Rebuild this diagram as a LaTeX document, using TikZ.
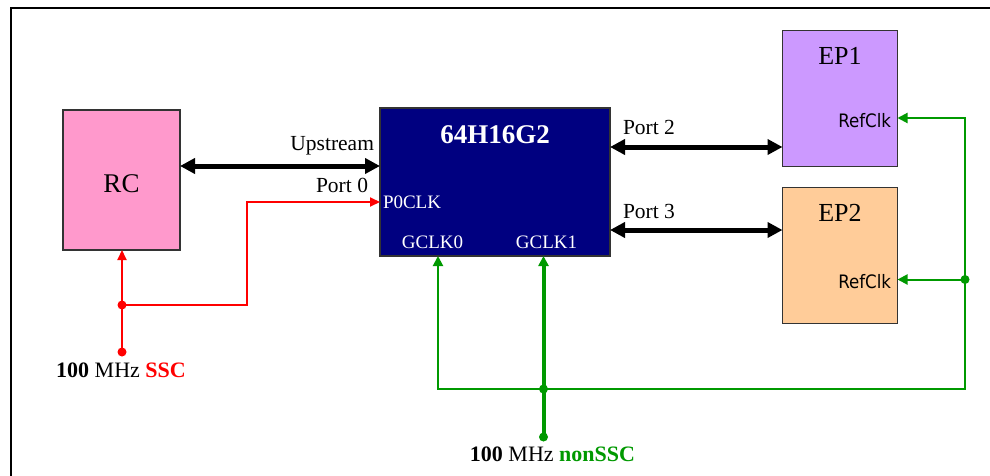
\documentclass[tikz,border=0pt]{standalone}
\usepackage{fontspec}
\setmainfont{Liberation Serif}
\newfontfamily\refclkfont{DejaVu Sans Condensed}
\usetikzlibrary{arrows.meta,calc}
\definecolor{rcpink}{HTML}{FF99CC}
\definecolor{swnavy}{HTML}{000080}
\definecolor{eppurple}{HTML}{CC99FF}
\definecolor{eporange}{HTML}{FFCC99}
\definecolor{clkgreen}{HTML}{009900}
\definecolor{clkred}{HTML}{FF0000}
\newcommand{\fsz}[1]{\fontsize{#1}{#1}\selectfont}
\begin{document}
\begin{tikzpicture}[x=1pt,y=-1pt,
  blockbox/.style={draw=black!80, line width=1.2pt, inner sep=0pt, outer sep=0pt, anchor=north west},
  lbl/.style={inner sep=0pt, outer sep=0pt},
  bus/.style={line width=5pt, {Triangle[length=15pt,width=15pt]}-{Triangle[length=15pt,width=15pt]}},
  redline/.style={draw=clkred, line width=2pt},
  greenline/.style={draw=clkgreen, line width=2pt},
  greenthick/.style={draw=clkgreen, line width=4pt},
  redtip/.style={-{Triangle[length=10pt,width=9pt]}},
  greentip/.style={-{Triangle[length=10pt,width=10pt]}},
  reddot/.style={circle, fill=clkred, inner sep=0pt, minimum size=9pt},
  greendot/.style={circle, fill=clkgreen, inner sep=0pt, minimum size=9pt}]
\useasboundingbox (0,0) rectangle (990,476);
\fill[white] (0,0) rectangle (990,476);
% frame
\draw[line width=2.5pt] (11,476) -- (11,8) -- (990,8);

% blocks
\node[blockbox, fill=rcpink, minimum width=117pt, minimum height=140pt] (rc) at (63,110) {};
\node[blockbox, fill=swnavy, minimum width=230pt, minimum height=148pt] (sw) at (380,108) {};
\node[blockbox, fill=eppurple, minimum width=115pt, minimum height=136pt] (ep1) at (782.5,30.5) {};
\node[blockbox, fill=eporange, minimum width=115pt, minimum height=136pt] (ep2) at (782.5,187.5) {};

% block texts
\node[lbl, anchor=base] (rctxt) at (121.5,192) {\fsz{27}RC};
\node[lbl, anchor=base, text=white] (swtxt) at (495,143) {\fsz{27}\textbf{64H16G2}};
\node[lbl, anchor=base west, text=white] (p0clk) at (383,208) {\fsz{19}P0CLK};
\node[lbl, anchor=base, text=white] (gclk0) at (432.5,248) {\fsz{19}GCLK0};
\node[lbl, anchor=base, text=white] (gclk1) at (546.5,248) {\fsz{19}GCLK1};
\node[lbl, anchor=base] (ep1txt) at (840,65) {\fsz{26}EP1};
\node[lbl, anchor=base] (ep2txt) at (840,221.5) {\fsz{26}EP2};
\node[lbl, anchor=base east] (rc1) at (891,127.3) {\refclkfont\fsz{18.5}RefClk};
\node[lbl, anchor=base east] (rc2) at (891,288.5) {\refclkfont\fsz{18.5}RefClk};

% port labels
\node[lbl, anchor=base east] (upl) at (374,150) {\fsz{21.5}Upstream};
\node[lbl, anchor=base east] (p0l) at (368,192) {\fsz{21.5}Port 0};
\node[lbl, anchor=base west] (p2l) at (623,135) {\fsz{21.5}Port 2};
\node[lbl, anchor=base west] (p3l) at (623,218) {\fsz{21.5}Port 3};

% buses
\coordinate (yup) at (0,166);
\coordinate (yp2) at (0,147);
\coordinate (yp3) at (0,230);
\draw[bus] (rc.east |- yup) -- (sw.west |- yup);
\draw[bus] (sw.east |- yp2) -- (ep1.west |- yp2);
\draw[bus] (sw.east |- yp3) -- (ep2.west |- yp3);

% red clock
\node[reddot] (rsrc) at (122,352) {};
\node[reddot] (rj) at (122,305) {};
\coordinate (rbend1) at (247,305);
\coordinate (rbend2) at (247,202);
\draw[redline] (rsrc.center) -- (rj.center);
\draw[redline, redtip] (rj.center) -- (rj |- rc.south);
\draw[redline, redtip] (rj.center) -- (rbend1) -- (rbend2) -- (sw.west |- rbend2);
\node[lbl, anchor=base] (ssc) at (121,377) {\fsz{22}\textbf{100} MHz \textcolor{clkred}{\textbf{SSC}}};

% green clock
\node[greendot] (gsrc) at (543.5,437) {};
\node[greendot] (gj) at (543.5,389) {};
\node[greendot] (gj2) at (965,279.5) {};
\coordinate (gleft) at (438,389);
\coordinate (gright) at (965,389);
\coordinate (gtop) at (965,118);
\draw[greenthick, greentip] (gsrc.center) -- (gsrc |- sw.south);
\draw[greenline, greentip] (gj.center) -- (gleft) -- (gleft |- sw.south);
\draw[greenline, greentip] (gj.center) -- (gright) -- (gtop) -- (ep1.east |- gtop);
\draw[greenline, greentip] (gj2.center) -- (ep2.east |- gj2);
\node[lbl, anchor=base] (nonssc) at (552.5,461) {\fsz{22}\textbf{100} MHz \textcolor{clkgreen}{\textbf{nonSSC}}};
\end{tikzpicture}
\end{document}
